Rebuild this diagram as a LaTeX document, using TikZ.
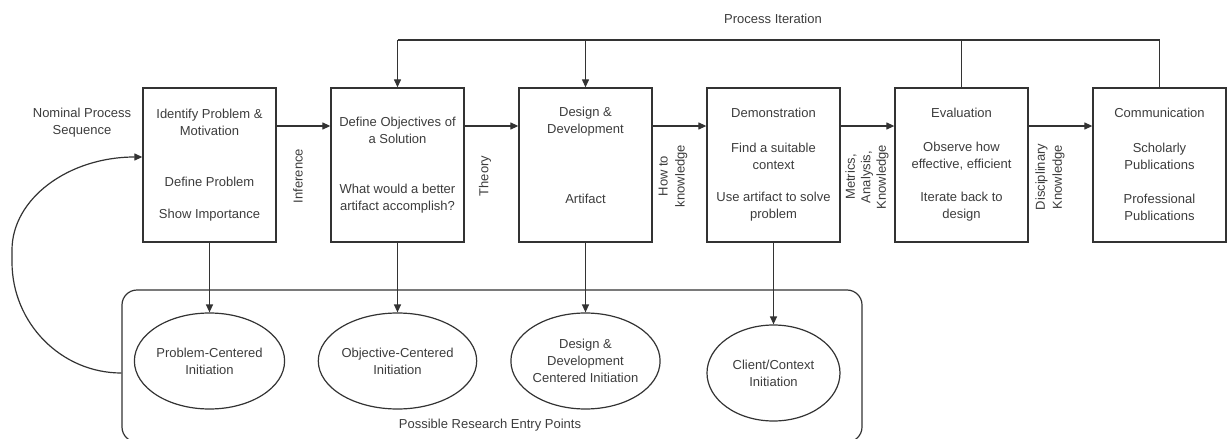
\documentclass[tikz,border=0pt]{standalone}
\usepackage{fontspec}
\setmainfont{Liberation Sans}
\usetikzlibrary{arrows.meta,shapes.geometric}
\definecolor{lncol}{HTML}{333333}
\definecolor{txcol}{HTML}{3C3C3C}
\newcommand\dfont{\fontsize{13}{17}\selectfont}
\begin{document}
\begin{tikzpicture}[x=1pt,y=-1pt,
  box/.style={draw=lncol, line width=1.3pt, minimum width=133pt, minimum height=154pt, inner sep=0pt},
  ell/.style={ellipse, draw=lncol, line width=1.2pt, minimum width=133pt, minimum height=96pt, inner sep=0pt, align=center, text=txcol, font=\dfont},
  lbl/.style={text=txcol, font=\dfont, align=center, inner sep=0pt},
  vl/.style={lbl, rotate=90},
  wire/.style={draw=lncol, line width=1.2pt},
  arr/.style={wire, -{Triangle[length=8pt,width=7pt]}}]
\useasboundingbox (0,0) rectangle (1227,439);
% main process boxes
\node[box] (b1) at (209.5,165) {};
\node[box] (b2) at (397.5,165) {};
\node[box] (b3) at (585.5,165) {};
\node[box] (b4) at (773.5,165) {};
\node[box] (b5) at (961.5,165) {};
\node[box] (b6) at (1159.5,165) {};
% box texts
\node[lbl] (t1a) at (209.5,122) {Identify Problem \&\\Motivation};
\node[lbl] (t1b) at (209.5,182) {Define Problem};
\node[lbl] (t1c) at (209.5,215) {Show Importance};
\node[lbl] (t2a) at (397.5,130.5) {Define Objectives of\\a Solution};
\node[lbl] (t2b) at (397.5,198.5) {What would a better\\artifact accomplish?};
\node[lbl] (t3a) at (585.5,122) {Design \&\\Development};
\node[lbl] (t3b) at (585.5,199) {Artifact};
\node[lbl] (t4a) at (773.5,113) {Demonstration};
\node[lbl] (t4b) at (773.5,156) {Find a suitable\\context};
\node[lbl] (t4c) at (773.5,207) {Use artifact to solve\\problem};
\node[lbl] (t5a) at (961.5,113) {Evaluation};
\node[lbl] (t5b) at (961.5,156) {Observe how\\effective, efficient};
\node[lbl] (t5c) at (961.5,207) {Iterate back to\\design};
\node[lbl] (t6a) at (1159.5,113) {Communication};
\node[lbl] (t6b) at (1159.5,156) {Scholarly\\Publications};
\node[lbl] (t6c) at (1159.5,207) {Professional\\Publications};
% entry points container
\node[draw=lncol, line width=1.2pt, rounded corners=15pt, minimum width=740pt, minimum height=152pt, inner sep=0pt] (entry) at (492,366) {};
\node[ell] (e1) at (209.5,361) {Problem-Centered\\Initiation};
\node[ell] (e2) at (397.5,361) {Objective-Centered\\Initiation};
\node[ell] (e3) at (585.5,361) {Design \&\\Development\\Centered Initiation};
\node[ell] (e4) at (773.5,373) {Client/Context\\Initiation};
\node[lbl] (pre) at (490,425) {Possible Research Entry Points};
% free labels
\node[lbl] (pit) at (773,19) {Process Iteration};
\node[lbl] (nps) at (82,123) {Nominal Process\\Sequence};
\node[vl] (l1) at (298,176) {Inference};
\node[vl] (l2) at (485,176) {Theory};
\node[vl] (l3) at (673,176) {How to\\knowledge};
\node[vl, font=\fontsize{13}{15.5}\selectfont] (l4) at (867,177) {Metrics,\\Analysis,\\Knowledge};
\node[vl] (l5) at (1050,177) {Disciplinary\\Knowledge};
% horizontal flow
\coordinate (row) at (0,126);
\draw[arr] (b1.east |- row) -- (b2.west |- row);
\draw[arr] (b2.east |- row) -- (b3.west |- row);
\draw[arr] (b3.east |- row) -- (b4.west |- row);
\draw[arr] (b4.east |- row) -- (b5.west |- row);
\draw[arr] (b5.east |- row) -- (b6.west |- row);
% iteration loop
\coordinate (top) at (0,40);
\draw[wire] (b2.north |- top) -- (b6.north |- top) -- (b6.north);
\draw[wire] (b5.north) -- (b5.north |- top);
\draw[arr] (b2.north |- top) -- (b2.north);
\draw[arr] (b3.north |- top) -- (b3.north);
% entry arrows
\draw[arr] (b1.south) -- (e1.north);
\draw[arr] (b2.south) -- (e2.north);
\draw[arr] (b3.south) -- (e3.north);
\draw[arr] (b4.south) -- (e4.north);
% loop back curve
\draw[arr] ([yshift=-7pt]entry.west) .. controls (61,373) and (12,323) .. (12,262) -- (12,250) .. controls (12,199) and (68,157) .. ([yshift=8pt]b1.west);
\end{tikzpicture}
\end{document}
